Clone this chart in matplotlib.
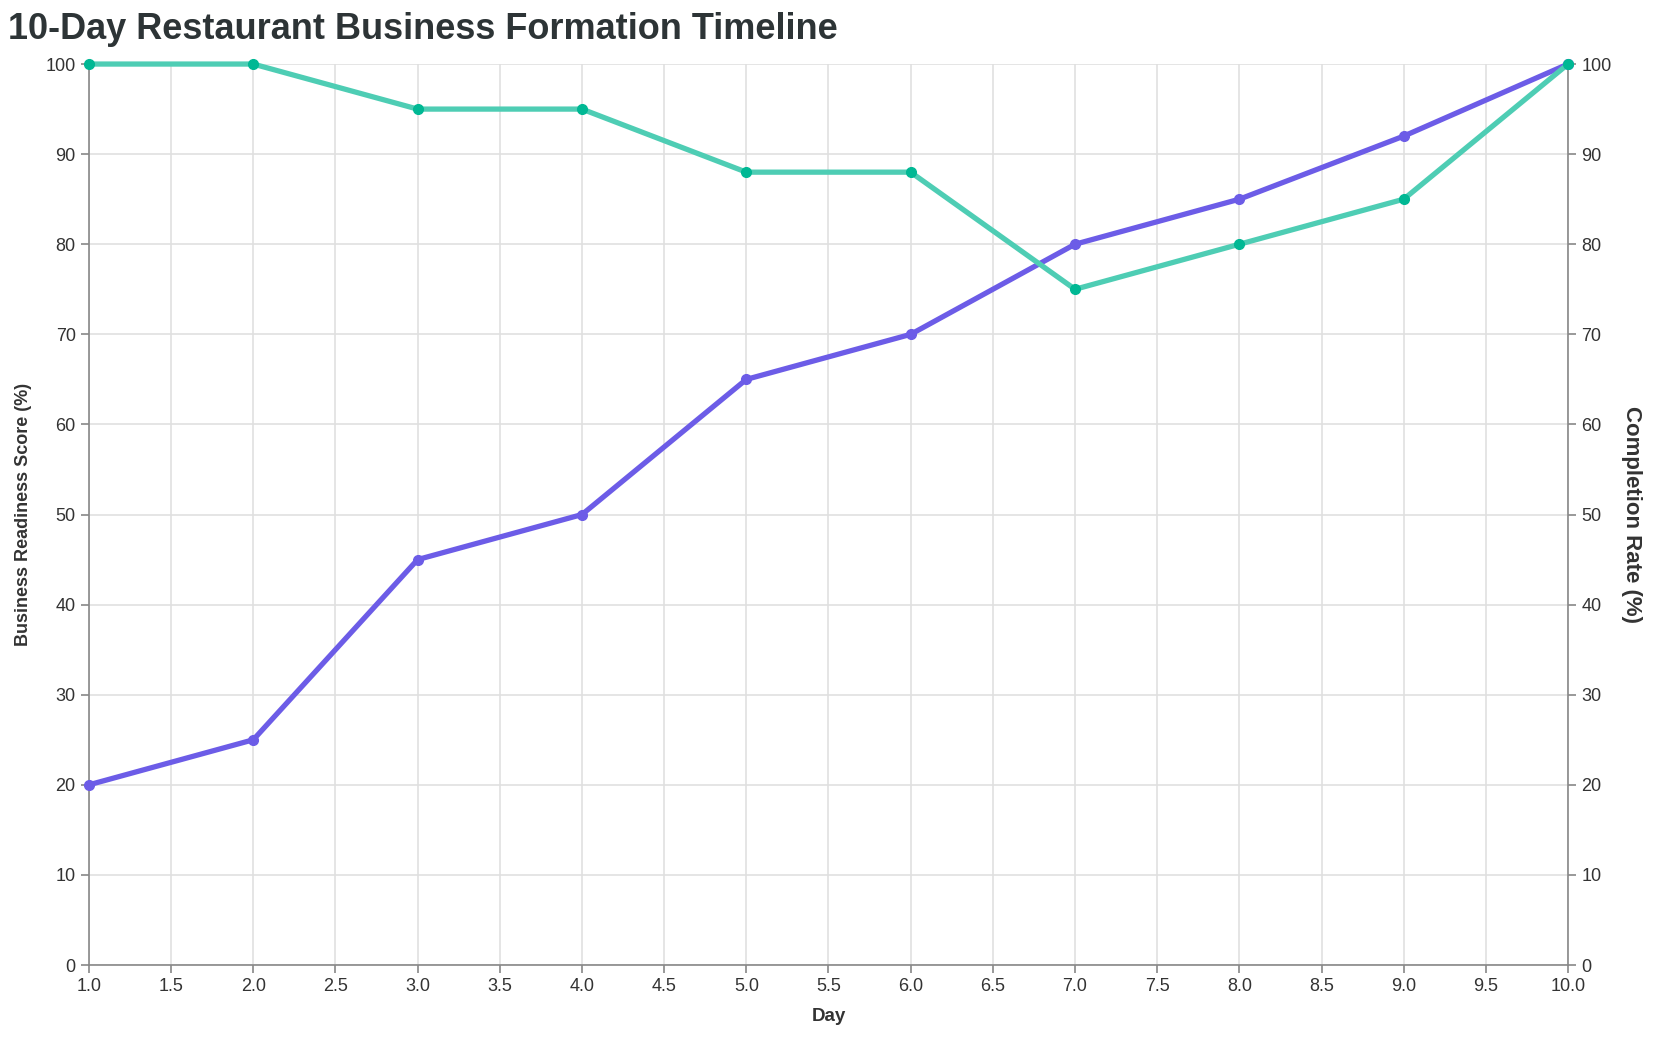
import numpy as np
import matplotlib.pyplot as plt

plt.rcParams['font.family'] = ['Liberation Sans', 'DejaVu Sans']

days = [1, 2, 3, 4, 5, 6, 7, 8, 9, 10]
readiness = [20, 25, 45, 50, 65, 70, 80, 85, 92, 100]
completion = [100, 100, 95, 95, 88, 88, 75, 80, 85, 100]

purple = '#6c5ce7'
teal_line = '#4ecdb4'
teal_dot = '#00b894'
grid_c = '#e0e0e0'
axis_c = '#888888'
text_c = '#333333'

fig = plt.figure(figsize=(16.56, 10.38), dpi=100)
ax = fig.add_axes([0.0537, 0.0703, 0.8932, 0.868])
ax2 = ax.twinx()

ax.plot(days, readiness, color=purple, lw=3.8, marker='o', ms=7, mfc=purple, mec=purple,
        zorder=3, clip_on=False)
ax2.plot(days, completion, color=teal_line, lw=3.8, marker='o', ms=7, mfc=teal_dot, mec=teal_dot,
         zorder=3, clip_on=False)

for a in (ax, ax2):
    a.set_xlim(1, 10)
    a.set_ylim(0, 100)
    a.set_yticks(np.arange(0, 101, 10))
    a.spines['top'].set_visible(False)
    a.tick_params(colors=axis_c, labelcolor=text_c, labelsize=13, length=6, width=1.2)

ax.set_xticks(np.arange(1, 10.01, 0.5))
ax.set_xticklabels([f'{v:.1f}' for v in np.arange(1, 10.01, 0.5)])
ax.grid(True, color=grid_c, lw=1.2)
ax.set_axisbelow(True)
ax.spines['right'].set_visible(False)
ax.spines['left'].set_color(axis_c)
ax.spines['bottom'].set_color(axis_c)
ax.spines['left'].set_linewidth(1.2)
ax.spines['bottom'].set_linewidth(1.2)
ax2.spines['right'].set_color(axis_c)
ax2.spines['right'].set_linewidth(1.2)
ax2.spines['left'].set_visible(False)
ax2.spines['bottom'].set_visible(False)

ax.set_xlabel('Day', fontsize=13.5, fontweight='bold', color=text_c, labelpad=9)
ax.set_ylabel('Business Readiness Score (%)', fontsize=13, fontweight='bold', color=text_c, labelpad=10)
ax2.set_ylabel('Completion Rate (%)', fontsize=16, fontweight='bold', color=text_c, rotation=270, labelpad=22)

fig.text(0.005, 0.972, '10-Day Restaurant Business Formation Timeline', fontsize=26,
         fontweight='bold', color='#2d3436', ha='left', va='center')

fig.savefig('out.png', dpi=100)
